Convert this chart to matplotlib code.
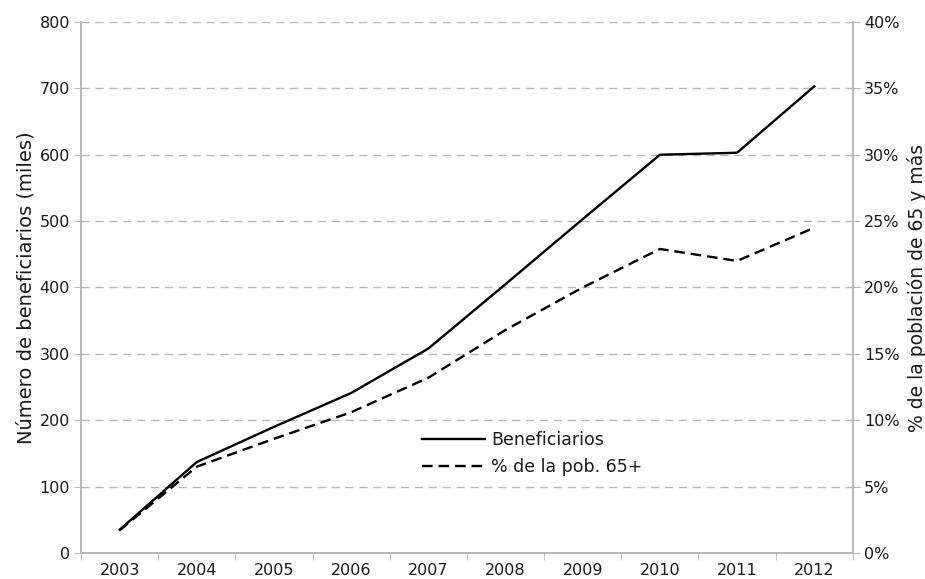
import numpy as np
import matplotlib.pyplot as plt
from matplotlib.ticker import FuncFormatter

# =====================
# DATA
# =====================
years = ["2003", "2004", "2005", "2006", "2007", "2008", "2009", "2010", "2011", "2012"]
beneficiarios = [35, 137, 190, 241, 308, 405, 503, 600, 603, 703]
pct_pob_65 = [1.7, 6.5, 8.6, 10.6, 13.2, 16.8, 20.0, 22.9, 22.0, 24.5]

GRID = "#b8b8b8"
SPINE = "#b8b8b8"
TEXT = "#1a1a1a"

plt.rcParams["font.family"] = ["DejaVu Sans"]
plt.rcParams["font.size"] = 11.5
plt.rcParams["text.color"] = TEXT
plt.rcParams["axes.labelcolor"] = TEXT
plt.rcParams["xtick.labelcolor"] = TEXT
plt.rcParams["ytick.labelcolor"] = TEXT

fig, ax = plt.subplots(figsize=(9.25, 5.79), dpi=100)
fig.subplots_adjust(left=0.0876, right=0.922, top=0.962, bottom=0.045)
ax2 = ax.twinx()

x = np.arange(len(years))
l1, = ax.plot(x, beneficiarios, color="black", lw=1.7, label="Beneficiarios")
l2, = ax2.plot(x, pct_pob_65, color="black", lw=1.7, ls=(0, (4.5, 2.5)), label="% de la pob. 65+")

ax.set_xlim(-0.5, len(years) - 0.5)
ax.set_ylim(0, 800)
ax2.set_ylim(0, 40)
ax.set_yticks(np.arange(0, 801, 100))
ax2.set_yticks(np.arange(0, 41, 5))
ax2.yaxis.set_major_formatter(FuncFormatter(lambda v, p: f"{v:.0f}%"))

ax.set_xticks(x)
ax.set_xticklabels(years)
ax.set_xticks(np.arange(-0.5, len(years)), minor=True)
ax.tick_params(axis="x", which="major", length=0, pad=7)
ax.tick_params(axis="x", which="minor", length=5, color=SPINE)
ax.tick_params(axis="y", length=5, color=SPINE, pad=3)
ax2.tick_params(axis="y", length=5, color=SPINE, pad=3)

ax.yaxis.grid(True, color=GRID, ls=(0, (6, 4)), lw=1)
ax.set_axisbelow(True)

for a in (ax, ax2):
    a.spines["top"].set_visible(False)
    for s in ("left", "right", "bottom"):
        a.spines[s].set_color(SPINE)
        a.spines[s].set_linewidth(1.2)

ax.set_ylabel("Número de beneficiarios (miles)", fontsize=14, labelpad=3)
ax2.set_ylabel("% de la población de 65 y más", fontsize=13.5, labelpad=5)

ax.legend(handles=[l1, l2], loc="center left", bbox_to_anchor=(0.422, 0.187),
          frameon=False, handlelength=3.6, handletextpad=0.35, labelspacing=0.55,
          fontsize=12.5)

plt.savefig("out.png", dpi=100)
plt.close()
